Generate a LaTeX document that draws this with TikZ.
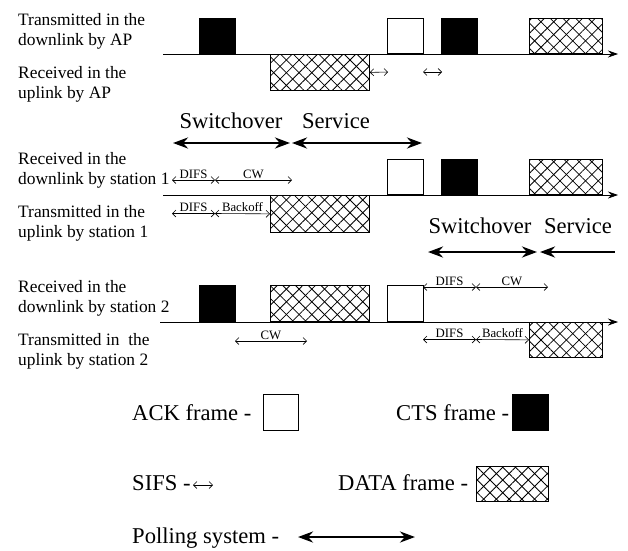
\documentclass[tikz,border=0pt]{standalone}
\usepackage{fontspec}
\setmainfont{Liberation Serif}
\usetikzlibrary{arrows.meta,patterns.meta}

\begin{document}
\begin{tikzpicture}[
        x=1pt, y=-1pt,
        side/.style={align=left, anchor=west, inner sep=0pt, font=\fontsize{17.4}{20}\selectfont},
        big/.style={anchor=base, inner sep=0pt, font=\fontsize{22.6}{26}\selectfont},
        legend/.style={anchor=base west, inner sep=0pt, font=\fontsize{22.6}{26}\selectfont},
        small/.style={above, inner sep=1.5pt, font=\fontsize{12.8}{14}\selectfont},
        frame/.style={draw, line width=0.7pt, inner sep=0pt, anchor=south west, minimum width=36pt, minimum height=35pt},
        ackframe/.style={frame, fill=white},
        ctsframe/.style={frame, fill=black},
        dataframe/.style={frame, minimum width=73pt,
            pattern={Lines[angle=45,distance=9pt,line width=0.8pt]},
            postaction={pattern={Lines[angle=-45,distance=9pt,line width=0.8pt]}}},
        timeline/.style={line width=0.7pt, -{Stealth[length=10pt,width=7pt]}},
        gap/.style={line width=0.6pt, {Straight Barb[length=3.5pt,width=7pt]}-{Straight Barb[length=3.5pt,width=7pt]}},
        poll/.style={line width=2.6pt, {Stealth[length=15pt,width=11pt]}-{Stealth[length=15pt,width=11pt]}},
        pollleft/.style={line width=2.6pt, {Stealth[length=15pt,width=11pt]}-}
    ]
        \useasboundingbox (0,0) rectangle (628,550);

        \node[side] (aptx) at (18,31) {Transmitted in the\\downlink by AP};
        \node[side] (aprx) at (18,84) {Received in the\\uplink by AP};
        \node[side] (s1rx) at (18,170) {Received in the\\downlink by station 1};
        \node[side] (s1tx) at (18,223) {Transmitted in the\\uplink by station 1};
        \node[side] (s2rx) at (18,298) {Received in the\\downlink by station 2};
        \node[side] (s2tx) at (18,351) {Transmitted in\ \ the\\uplink by station 2};

        \coordinate (ap0) at (163,54);
        \coordinate (ap1) at (618,54);
        \coordinate (s10) at (163,195);
        \coordinate (s11) at (618,195);
        \coordinate (s20) at (160,322);
        \coordinate (s21) at (618,322);
        \draw[timeline] (ap0) -- (ap1);
        \draw[timeline] (s10) -- (s11);
        \draw[timeline] (s20) -- (s21);

        \node[ctsframe] (apcts1) at (199,54) {};
        \node[dataframe, anchor=north west, minimum width=99pt, minimum height=36pt] (apdata1) at (270,54) {};
        \node[ackframe] (apack) at (387,54) {};
        \node[ctsframe] (apcts2) at (441,54) {};
        \node[dataframe] (apdata2) at (529,54) {};

        \coordinate (sifs1) at (388,72);
        \coordinate (sifs2a) at (423,72);
        \coordinate (sifs2b) at (442,72);
        \draw[gap] (apdata1.east) -- (sifs1);
        \draw[gap] (sifs2a) -- (sifs2b);

        \node[big] (switch1) at (231,128) {Switchover};
        \node[big] (service1) at (336,128) {Service};
        \coordinate (p0) at (173,143);
        \coordinate (p1) at (290,143);
        \coordinate (p2) at (292,143);
        \coordinate (p3) at (422,143);
        \draw[poll] (p0) -- (p1);
        \draw[poll] (p2) -- (p3);

        \node[dataframe, anchor=north west, minimum width=99pt, minimum height=37pt] (s1data1) at (270,195) {};
        \node[ackframe] (s1ack) at (387,195) {};
        \node[ctsframe] (s1cts) at (441,195) {};
        \node[dataframe] (s1data2) at (529,195) {};

        \coordinate (s1d0) at (172,180);
        \coordinate (s1d1) at (215,180);
        \coordinate (s1d2) at (292,180);
        \draw[gap] (s1d0) -- node[small] {DIFS} (s1d1);
        \draw[gap] (s1d1) -- node[small] {CW} (s1d2);
        \coordinate (s1u0) at (172,213.5);
        \coordinate (s1u1) at (215,213.5);
        \draw[gap] (s1u0) -- node[small] {DIFS} (s1u1);
        \draw[gap] (s1u1) -- node[small] {Backoff} (s1data1.west);

        \node[big] (switch2) at (480,233) {Switchover};
        \node[big] (service2) at (578,233) {Service};
        \coordinate (q0) at (428,252);
        \coordinate (q1) at (537,252);
        \coordinate (q2) at (540,252);
        \coordinate (q3) at (615,252);
        \draw[poll] (q0) -- (q1);
        \draw[pollleft] (q2) -- (q3);

        \node[ctsframe, minimum height=36pt] (s2cts) at (199,322) {};
        \node[dataframe, minimum width=99pt, minimum height=36pt] (s2data1) at (270,322) {};
        \node[ackframe, minimum height=36pt] (s2ack) at (387,322) {};
        \node[dataframe, anchor=north west] (s2data2) at (529,322) {};

        \coordinate (s2c0) at (235,341);
        \coordinate (s2c1) at (307,341);
        \draw[gap] (s2c0) -- node[small] {CW} (s2c1);
        \coordinate (s2d0) at (423,287);
        \coordinate (s2d1) at (476,287);
        \coordinate (s2d2) at (548,287);
        \draw[gap] (s2d0) -- node[small] {DIFS} (s2d1);
        \draw[gap] (s2d1) -- node[small] {CW} (s2d2);
        \coordinate (s2u0) at (423,339.5);
        \coordinate (s2u1) at (476,339.5);
        \draw[gap] (s2u0) -- node[small] {DIFS} (s2u1);
        \draw[gap] (s2u1) -- node[small] {Backoff} (s2data2.west);

        \node[legend] (ackkey) at (132,420) {ACK frame -};
        \node[ackframe, minimum width=35pt, minimum height=36pt] (ackbox) at (263,431) {};
        \node[legend] (ctskey) at (396,420) {CTS frame -};
        \node[ctsframe, minimum height=36pt] (ctsbox) at (512,431) {};
        \node[legend] (sifskey) at (132,490) {SIFS -};
        \coordinate (sifs3a) at (193,485);
        \coordinate (sifs3b) at (213,485);
        \draw[gap] (sifs3a) -- (sifs3b);
        \node[legend] (datakey) at (338,490) {DATA frame -};
        \node[dataframe, minimum width=72pt] (databox) at (476,502) {};
        \node[legend] (pollkey) at (132,543) {Polling system -};
        \coordinate (poll0) at (298,537);
        \coordinate (poll1) at (415,537);
        \draw[poll] (poll0) -- (poll1);
    \end{tikzpicture}
\end{document}
